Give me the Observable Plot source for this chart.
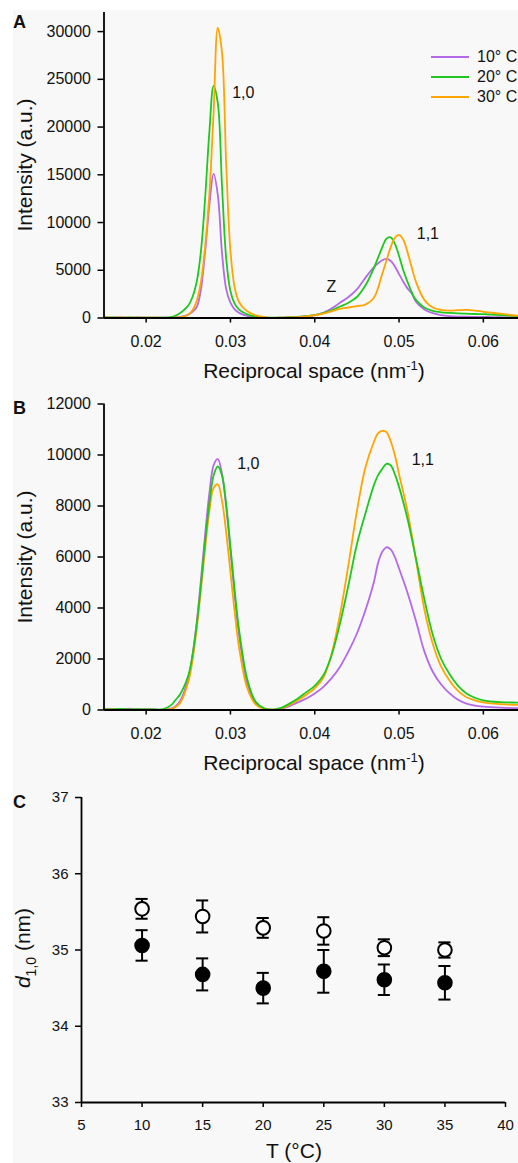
<!DOCTYPE html>
<html><head><meta charset="utf-8">
<script src="https://cdn.jsdelivr.net/npm/d3@7"></script>
<script src="https://cdn.jsdelivr.net/npm/@observablehq/plot@0.6"></script>
<style>
html,body{margin:0;padding:0;background:#fff;overflow:hidden;width:518px;height:1163px;position:relative;}
#bg{position:absolute;left:13px;top:10px;width:505px;height:1153px;background:#f8f8f8;}
.abs{position:absolute;font-family:"Liberation Sans",Arial,Helvetica,sans-serif;color:#111;white-space:nowrap;line-height:1;}
.sw{position:absolute;height:2px;width:38px;}
</style></head><body>
<div id="bg"></div>
<div id="root"></div>
<script>
// ---------- Data ----------
const seriesNames = ["10° C", "20° C", "30° C"];
const seriesColors = ["#b469e6", "#1ec81e", "#ffa500"];

// Panel A: reciprocal space grid and intensities
const qA = [0.015,0.016,0.017,0.018,0.019,0.020,0.021,0.022,0.023,0.0235,0.024,0.0245,0.025,0.0255,0.026,0.0265,0.027,0.0275,0.028,0.0285,0.029,0.0295,0.030,0.0305,0.031,0.0315,0.032,0.033,0.034,0.035,0.036,0.037,0.038,0.039,0.040,0.041,0.042,0.043,0.044,0.045,0.046,0.047,0.048,0.0485,0.049,0.0495,0.050,0.0505,0.051,0.0515,0.052,0.053,0.054,0.055,0.056,0.057,0.058,0.059,0.060,0.061,0.062,0.063,0.064,0.065];
const a10 = [60,40,70,30,50,30,40,30,40,70,110,200,360,650,1150,3000,7000,11800,15100,12900,6800,3000,1600,900,550,350,220,90,40,20,40,80,120,200,300,550,1000,1600,2200,3000,4200,5300,6050,6200,6000,5400,4600,3800,3100,2600,1700,900,500,300,200,150,130,120,110,100,80,60,50,40];
const a20 = [50,60,30,50,40,30,40,40,80,250,500,850,1300,2200,3800,7000,12600,19500,24300,22500,13800,6200,2800,1500,900,600,380,150,60,30,40,80,120,200,300,500,800,1200,1600,2200,3400,5200,7400,8300,8450,7800,6500,5000,3800,2700,1900,1100,750,600,530,480,450,420,400,350,300,250,200,150];
const a30 = [40,30,50,30,40,30,30,20,20,40,80,180,350,800,1800,3800,7500,13000,21500,30400,27800,16000,7000,3200,1700,1100,700,280,100,20,30,60,100,180,280,450,700,950,1100,1250,1400,2100,4600,6000,7400,8400,8700,8200,6900,5300,3800,1900,1100,850,780,820,850,780,650,550,450,350,250,180];

// Panel B
const qB = [0.015,0.016,0.017,0.018,0.019,0.020,0.021,0.022,0.023,0.0235,0.024,0.025,0.0255,0.026,0.0265,0.027,0.0275,0.028,0.0285,0.029,0.0295,0.030,0.0305,0.031,0.032,0.033,0.034,0.035,0.036,0.037,0.038,0.039,0.040,0.041,0.042,0.043,0.044,0.045,0.046,0.047,0.0475,0.048,0.0485,0.049,0.0495,0.050,0.051,0.052,0.053,0.054,0.055,0.056,0.057,0.058,0.059,0.060,0.062,0.064,0.065];
const b10 = [20,40,20,50,20,30,20,10,60,150,330,1250,2150,3450,5100,6900,8500,9600,9850,9250,7950,6250,4500,3000,1050,260,50,5,40,150,300,450,650,900,1250,1700,2300,3000,3900,5000,5750,6200,6380,6300,6000,5550,4600,3500,2300,1500,1000,650,400,250,170,130,90,70,60];
const b20 = [30,20,40,20,30,20,20,30,200,400,600,1350,2150,3350,4900,6600,8100,9200,9550,9200,8050,6400,4700,3200,1200,320,70,10,80,250,450,700,950,1350,2150,3400,4900,6500,7700,8800,9200,9450,9650,9600,9250,8750,7500,5950,4350,2950,2000,1400,950,650,480,380,310,290,280];
const b30 = [10,30,20,10,20,10,10,5,40,120,260,1100,1950,3200,4750,6350,7800,8700,8850,8200,6950,5400,3850,2500,850,210,40,10,60,200,380,600,850,1250,2200,3750,5700,7800,9500,10500,10850,10950,10900,10550,10000,9250,7800,5900,3950,2600,1700,1150,750,500,380,300,230,200,190];

// Panel C: d(1,0) spacing vs temperature
const temps = [10, 15, 20, 25, 30, 35];
const openMean = [35.54, 35.44, 35.29, 35.25, 35.03, 35.00];
const openErr = [0.13, 0.21, 0.13, 0.18, 0.11, 0.10];
const filledMean = [35.06, 34.68, 34.50, 34.72, 34.61, 34.57];
const filledErr = [0.20, 0.21, 0.20, 0.28, 0.20, 0.22];

// Ticks
const xTicksAB = [0.02, 0.03, 0.04, 0.05, 0.06];
const yTicksA = [0, 5000, 10000, 15000, 20000, 25000, 30000];
const yTicksB = [0, 2000, 4000, 6000, 8000, 10000, 12000];
const xTicksC = [5, 10, 15, 20, 25, 30, 35, 40];
const yTicksC = [33, 34, 35, 36, 37];

// Peak annotations
const annA = [{q: 0.0302, v: 23600, t: "1,0"}, {q: 0.0414, v: 3300, t: "Z"}, {q: 0.0521, v: 8800, t: "1,1"}];
const annB = [{q: 0.0308, v: 9650, t: "1,0"}, {q: 0.0515, v: 9820, t: "1,1"}];

// ---------- Build ----------
const font = '"Liberation Sans", Arial, Helvetica, sans-serif';
const rows = (q, arr, s) => q.map((x, i) => ({q: x, v: arr[i], s}));
const dataA = [...rows(qA, a10, seriesNames[0]), ...rows(qA, a20, seriesNames[1]), ...rows(qA, a30, seriesNames[2])];
const dataB = [...rows(qB, b10, seriesNames[0]), ...rows(qB, b30, seriesNames[2]), ...rows(qB, b20, seriesNames[1])];
const dataC = temps.flatMap((T, i) => [
  {T, m: filledMean[i], e: filledErr[i], g: "filled"},
  {T, m: openMean[i], e: openErr[i], g: "open"}
]);

const root = document.getElementById("root");
function place(svg, top) {
  svg.style.position = "absolute";
  svg.style.left = "0px";
  svg.style.top = top + "px";
  root.appendChild(svg);
}
const baseStyle = {background: "transparent", fontFamily: font, fontSize: "16px", color: "#000", overflow: "visible", maxWidth: "none"};

function spectrum(data, yDomain, yTicks, ann, height, mt, mb) {
  const svg = Plot.plot({
    width: 526, height, marginLeft: 103.5, marginRight: 1, marginTop: mt, marginBottom: mb,
    x: {domain: [0.015, 0.065]},
    y: {domain: yDomain},
    color: {domain: seriesNames, range: seriesColors},
    style: baseStyle,
    marks: [
      Plot.lineY(data, {x: "q", y: "v", stroke: "s", z: "s", curve: "catmull-rom", strokeWidth: 1.8}),
      Plot.ruleX([0.015], {strokeWidth: 1.8, stroke: "#000"}),
      Plot.ruleY([0], {strokeWidth: 1.8, stroke: "#000"}),
      Plot.axisX({ticks: xTicksAB, tickFormat: d => d.toFixed(2), tickSize: 5, tickPadding: 13, strokeWidth: 1.5, label: null, fontSize: 16, fill: "#111"}),
      Plot.axisY({ticks: yTicks, tickFormat: d => String(d), tickSize: 6, tickPadding: 7, strokeWidth: 1.5, label: null, fontSize: 16, fill: "#111"}),
      Plot.text(ann, {x: "q", y: "v", text: "t", textAnchor: "start", fontSize: 16, fill: "#111"})
    ]
  });
  svg.style.width = "526px";
  svg.style.height = height + "px";
  return svg;
}

place(spectrum(dataA, [0, 32000], yTicksA, annA, 385, 12, 67.5), 0);
place(spectrum(dataB, [0, 12000], yTicksB, annB, 390, 18.5, 65.5), 385);

const plotC = Plot.plot({
  width: 518, height: 383, marginLeft: 81, marginRight: 13, marginTop: 17, marginBottom: 61,
  x: {domain: [5, 40]},
  y: {domain: [33, 37]},
  style: baseStyle,
  marks: [
    Plot.ruleX([5], {strokeWidth: 1.8, stroke: "#000"}),
    Plot.ruleY([33], {strokeWidth: 1.8, stroke: "#000"}),
    Plot.axisX({ticks: xTicksC, tickFormat: d => String(d), tickSize: 5, tickPadding: 12, strokeWidth: 1.5, label: null, fontSize: 15, fill: "#111"}),
    Plot.axisY({ticks: yTicksC, tickFormat: d => String(d), tickSize: 6, tickPadding: 7, strokeWidth: 1.5, label: null, fontSize: 15, fill: "#111"}),
    Plot.ruleX(dataC, {x: "T", y1: d => d.m - d.e, y2: d => d.m + d.e, strokeWidth: 2, stroke: "#000"}),
    Plot.ruleY(dataC, {y: d => d.m + d.e, x1: d => d.T - 0.5, x2: d => d.T + 0.5, strokeWidth: 2, stroke: "#000"}),
    Plot.ruleY(dataC, {y: d => d.m - d.e, x1: d => d.T - 0.5, x2: d => d.T + 0.5, strokeWidth: 2, stroke: "#000"}),
    Plot.dot(dataC.filter(d => d.g === "filled"), {x: "T", y: "m", r: 6.8, fill: "#000", stroke: "#000", strokeWidth: 2}),
    Plot.dot(dataC.filter(d => d.g === "open"), {x: "T", y: "m", r: 6.8, fill: "#fff", stroke: "#000", strokeWidth: 2})
  ]
});
place(plotC, 780);

// ---------- Text overlays ----------
function label(html, x, y, opts = {}) {
  const d = document.createElement("div");
  d.className = "abs";
  d.innerHTML = html;
  d.style.left = x + "px";
  d.style.top = y + "px";
  d.style.fontSize = (opts.size || 21) + "px";
  if (opts.bold) d.style.fontWeight = "bold";
  d.style.transform = opts.transform || "translate(-50%,-50%)";
  document.body.appendChild(d);
  return d;
}
const sup = '<span style="font-size:13px;position:relative;top:-8px;">-1</span>';
label("Reciprocal space (nm" + sup + ")", 314, 370);
label("Reciprocal space (nm" + sup + ")", 314, 762);
label("T (°C)", 294, 1150);
label("Intensity (a.u.)", 24, 165, {transform: "translate(-50%,-50%) rotate(-90deg)"});
label("Intensity (a.u.)", 24, 557, {transform: "translate(-50%,-50%) rotate(-90deg)"});
label('<i>d</i><sub style="font-size:14px;">1,0</sub> (nm)', 25, 948, {transform: "translate(-50%,-50%) rotate(-90deg)"});
label("A", 13, 13, {size: 18, bold: true, transform: "none"});
label("B", 13, 399, {size: 18, bold: true, transform: "none"});
label("C", 13, 793, {size: 18, bold: true, transform: "none"});

// Legend
const legY = [57, 77, 97];
seriesNames.forEach((n, i) => {
  const s = document.createElement("div");
  s.className = "sw";
  s.style.left = "431px";
  s.style.top = (legY[i] - 1) + "px";
  s.style.background = seriesColors[i];
  document.body.appendChild(s);
  label(n, 477, legY[i], {size: 16, transform: "translate(0,-50%)"});
});
</script>
</body></html>
